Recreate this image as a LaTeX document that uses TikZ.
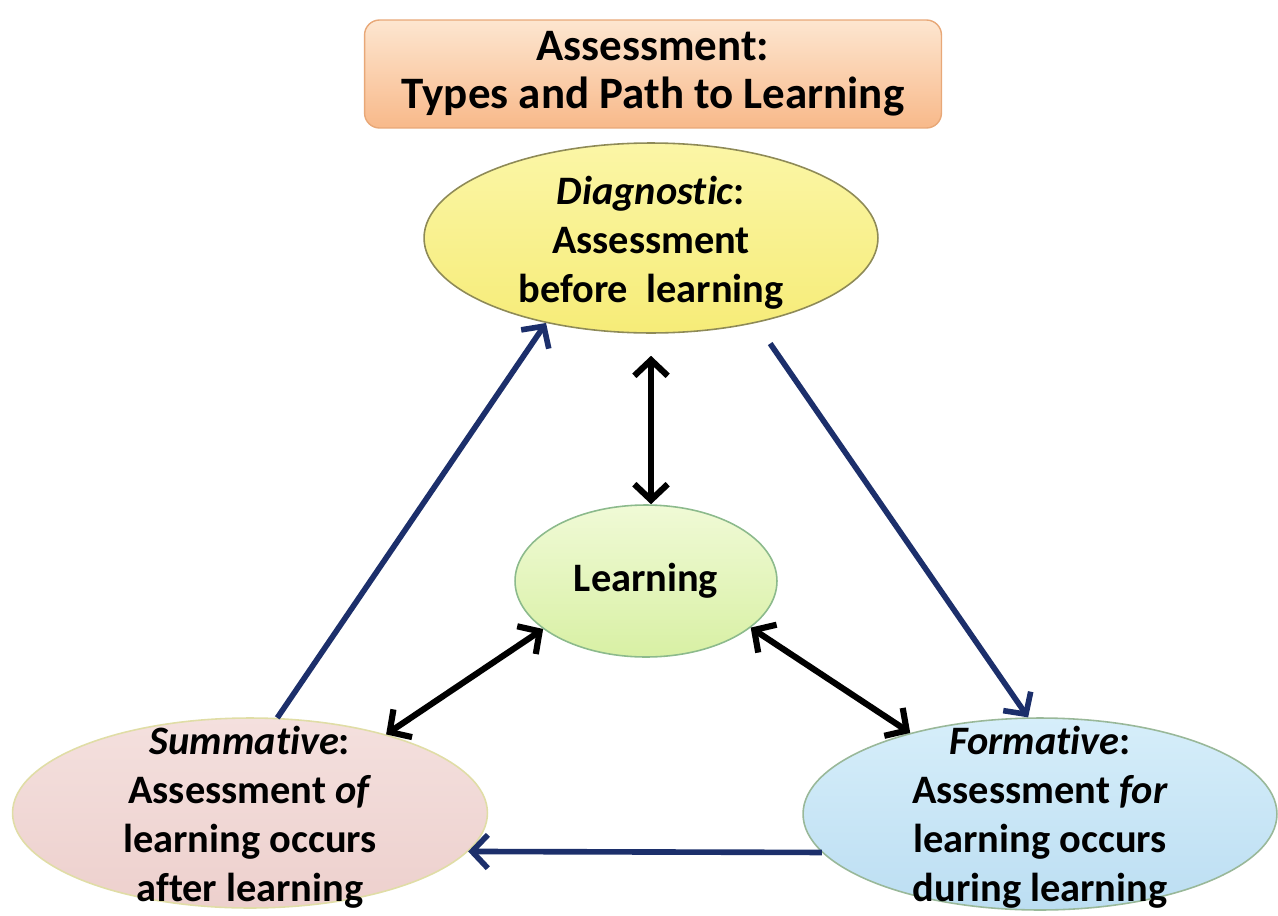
\documentclass[tikz,border=0pt]{standalone}
\usepackage{fontspec}
\setmainfont[Ligatures=NoCommon]{Carlito}
\usepackage{tikz}
\usetikzlibrary{shapes, arrows.meta, fit}
\usetikzlibrary{positioning}
\definecolor{pathblue}{HTML}{1C2F6B}
\definecolor{titletop}{HTML}{FDE6D0}
\definecolor{titlebot}{HTML}{F8B98A}
\definecolor{titleline}{HTML}{E8A878}
\definecolor{diagtop}{HTML}{FBF6A6}
\definecolor{diagbot}{HTML}{F6EC78}
\definecolor{learntop}{HTML}{F0FAD6}
\definecolor{learnbot}{HTML}{D8F0A4}
\definecolor{sumtop}{HTML}{F4E0DE}
\definecolor{sumbot}{HTML}{EDD0CD}
\definecolor{formtop}{HTML}{D6EEFA}
\definecolor{formbot}{HTML}{BCDEF2}

\begin{document}
\begin{tikzpicture}[x=0.02cm, y=-0.02cm,
    stage/.style={ellipse, draw=#1, line width=0.9pt, inner sep=0pt},
    txt/.style={align=center, inner sep=0pt,
        font=\fontsize{23}{27.8}\selectfont\bfseries},
    cycle/.style={pathblue, line width=3.2pt,
        -{Straight Barb[length=9pt, width=19pt]}},
    link/.style={black, line width=3.5pt,
        {Straight Barb[length=9pt, width=19pt]}-{Straight Barb[length=9pt, width=19pt]}}]
    \useasboundingbox (0,0) rectangle (1278,916);

    \node[rectangle, rounded corners=0.3cm, draw=titleline, line width=0.8pt,
        top color=titletop, bottom color=titlebot,
        minimum width=11.54cm, minimum height=2.16cm,
        align=center, font=\fontsize{25.6}{27.4}\selectfont\bfseries]
        (title) at (653,74) {Assessment:\\Types and Path to Learning};

    \node[stage=black!45!olive!70, top color=diagtop, bottom color=diagbot,
        minimum width=9.08cm, minimum height=3.8cm,
        label={[txt, name=diag-t, yshift=-0.1cm]center:{\textit{Diagnostic}:\\Assessment\\before~~learning}}]
        (diag) at (651,238) {};
    \node[stage=green!40!black!45, top color=learntop, bottom color=learnbot,
        minimum width=5.24cm, minimum height=3.04cm,
        label={[txt, name=learn-t]center:{Learning}}]
        (learn) at (646,581) {};
    \node[stage=black!35!yellow!40, top color=sumtop, bottom color=sumbot,
        minimum width=9.5cm, minimum height=3.8cm,
        label={[txt, name=sum-t, yshift=-0.08cm]center:{\textit{Summative}:\\Assessment \textit{of}\\learning occurs\\after learning}}]
        (sum) at (250,813) {};
    \node[stage=green!30!black!40, top color=formtop, bottom color=formbot,
        minimum width=9.48cm, minimum height=3.84cm,
        label={[txt, name=form-t, yshift=-0.06cm]center:{\textit{Formative}:\\Assessment \textit{for}\\learning occurs\\during learning}}]
        (form) at (1040,814) {};

    \foreach \a/\b/\s in {sum.74/diag.219/0cm, diag.-39/form.97/0.5cm, form.190/sum.-10/0cm}
        \draw[cycle, shorten <=\s] (\a) -- (\b);
    \draw[link, shorten <=0.44cm] (diag.south) -- (diag.south |- learn.north);
    \draw[link] (sum.30) -- (learn.205);
    \draw[link] (learn.-24) -- (form.148);
\end{tikzpicture}
\end{document}
